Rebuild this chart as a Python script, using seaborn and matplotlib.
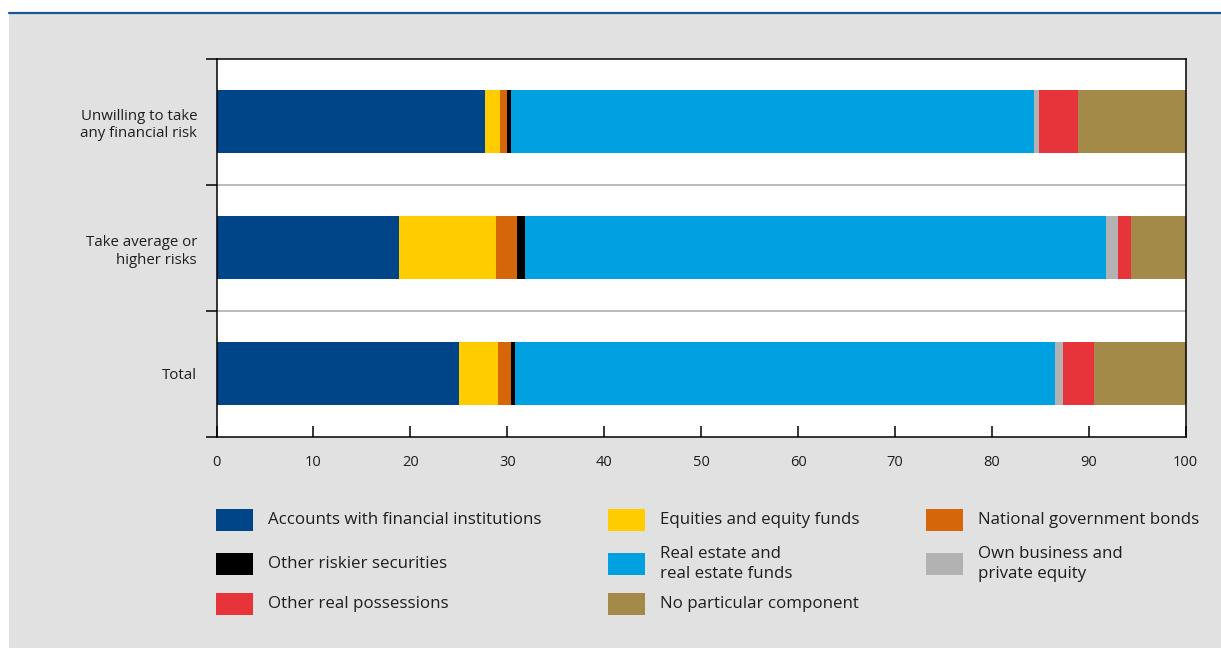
import matplotlib
matplotlib.use("Agg")
import matplotlib.pyplot as plt
from matplotlib.patches import Rectangle
from matplotlib.lines import Line2D
import numpy as np
import pandas as pd
import seaborn as sns

# Risk attitude groups (top to bottom)
groups = ["Unwilling to take\nany financial risk", "Take average or\nhigher risks", "Total"]

# Portfolio components and their shares (%) per group
components = [
    "Accounts with financial institutions",
    "Equities and equity funds",
    "National government bonds",
    "Other riskier securities",
    "Real estate and\nreal estate funds",
    "Own business and\nprivate equity",
    "Other real possessions",
    "No particular component",
]
accounts = [27.7, 18.8, 25.0]
equities = [1.5, 10.0, 4.0]
gov_bonds = [0.8, 2.2, 1.4]
other_securities = [0.4, 0.8, 0.4]
real_estate = [53.9, 60.0, 55.7]
own_business = [0.6, 1.2, 0.8]
other_real = [4.0, 1.4, 3.2]
no_particular = [11.1, 5.6, 9.5]

colors = ["#004587", "#ffcc00", "#d5670a", "#000000",
          "#00a0e1", "#b2b2b2", "#e6343a", "#a38a48"]

xticks = [0, 10, 20, 30, 40, 50, 60, 70, 80, 90, 100]

series = [accounts, equities, gov_bonds, other_securities,
          real_estate, own_business, other_real, no_particular]

sns.set_theme(style="white")
plt.rcParams["font.family"] = ["Open Sans", "DejaVu Sans"]
text_color = "#1e1e1e"

fig = plt.figure(figsize=(12.21, 6.48), dpi=100, facecolor="white")

# Grey panel with a blue rule along the top
fig.add_artist(Rectangle((9 / 1221, 0), 1 - 9 / 1221, (648 - 14) / 648,
                         transform=fig.transFigure, facecolor="#e1e1e1",
                         edgecolor="none", zorder=0))
fig.add_artist(Line2D([9 / 1221, 1], [1 - 13.3 / 648] * 2, transform=fig.transFigure,
                      color="#1a5799", lw=1.6, zorder=1))

ax = fig.add_axes([216.5 / 1221, 1 - 437 / 648, (1185.7 - 216.5) / 1221, (437 - 58.5) / 648])
ax.set_facecolor("white")

# Stacked bars: draw cumulative totals from the outermost component inwards
values = np.array(series)
cum = np.cumsum(values, axis=0)
for i in range(len(components) - 1, -1, -1):
    df = pd.DataFrame({"group": groups, "value": cum[i]})
    sns.barplot(data=df, y="group", x="value", orient="h", color=colors[i],
                width=0.5, saturation=1, ax=ax, linewidth=0, zorder=3)

ax.set_xlim(0, 100)
ax.set_ylim(2.5, -0.5)
ax.set_xlabel("")
ax.set_ylabel("")

ax.set_xticks(xticks)
ax.set_xticklabels([str(t) for t in xticks], fontsize=10.5, color=text_color)
ax.tick_params(axis="x", direction="in", length=8, width=1.1, color="black", pad=13, bottom=True)

ax.set_yticks(range(len(groups)))
ax.set_yticklabels(groups, fontsize=10.8, color=text_color, linespacing=1.25)
ax.tick_params(axis="y", which="major", length=0, pad=14, left=True)
ax.set_yticks([-0.5, 0.5, 1.5, 2.5], minor=True)
ax.tick_params(axis="y", which="minor", direction="out", length=8, width=1.1,
               color="black", left=True)

# Separators between groups
for yb in [0.5, 1.5]:
    ax.axhline(yb, color="#b4b4b4", lw=1.3, zorder=2)

for s in ax.spines.values():
    s.set_visible(True)
    s.set_color("black")
    s.set_linewidth(1.1)
    s.set_zorder(5)

# Legend laid out in a 3 x 3 grid, filled row by row
col_x = [216, 608, 926]
row_y = [520, 564, 604]
pw, ph = 37, 22
for k, (name, col) in enumerate(zip(components, colors)):
    r, c = divmod(k, 3)
    x0 = col_x[c]
    yc = row_y[r]
    fig.add_artist(Rectangle((x0 / 1221, 1 - (yc + ph / 2) / 648), pw / 1221, ph / 648,
                             transform=fig.transFigure, facecolor=col,
                             edgecolor="none", zorder=2))
    fig.text((x0 + 52) / 1221, 1 - yc / 648, name, fontsize=12.2, color=text_color,
             va="center", ha="left", linespacing=1.38)

fig.savefig("out.png", dpi=100, facecolor=fig.get_facecolor())
